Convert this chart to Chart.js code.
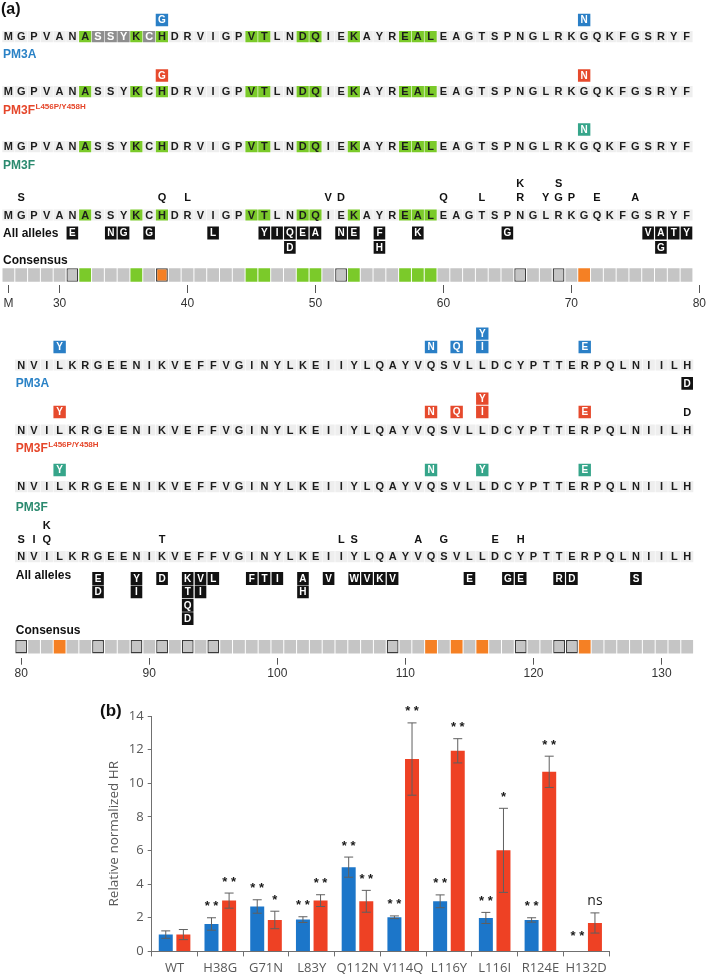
<!DOCTYPE html>
<html lang="en">
<head>
<meta charset="UTF-8">
<title>PM3 alleles and relative HR</title>
<script src="https://cdn.jsdelivr.net/npm/chart.js@4.4.1/dist/chart.umd.min.js"></script>
<style>
  body { margin: 0; width: 709px; height: 974px; overflow: hidden; position: relative; background: #fff; font-family: "Liberation Sans", Arial, sans-serif; }
  canvas { position: absolute; left: 0; }
  .panel { position: absolute; font-weight: bold; line-height: 1; color: #111; }
</style>
</head>
<body>
<canvas id="seqTop" width="709" height="318" style="top:0"></canvas>
<canvas id="seqBottom" width="709" height="372" style="top:318px"></canvas>
<canvas id="hrChart" width="709" height="290" style="top:690px"></canvas>
<div class="panel" style="left:1px;top:1px;font-size:16px">(a)</div>
<div class="panel" style="left:100px;top:702px;font-size:17px">(b)</div>

<script>
// ---- panel (a) data ----
// top line: M1 then residues 27..79, bottom line: residues 80..132
const TOP_SEQ = 'MGPVANASSYKCHDRVIGPVTLNDQIEKAYREALEAGTSPNGLRKGQKFGSRYF';
const BOTTOM_SEQ = 'NVILKRGEENIKVEFFVGINYLKEIIYLQAYVQSVLLDCYPTTERPQLNIILH';
const TOP_TICKS = ['M', 30, 40, 50, 60, 70, 80];
const BOTTOM_TICKS = [80, 90, 100, 110, 120, 130];

const HIGHLIGHT = [32, 36, 38, 45, 46, 49, 50, 53, 57, 58, 59];   // green residues
const PM3A_GREY = [33, 34, 35, 37];
const CONS_ORANGE = [38, 71, 83, 112, 114, 116, 124];
const CONS_BOXED = [31, 38, 52, 66, 69, 80, 86, 89, 91, 93, 95, 109, 119, 122, 123];

// [residue, letters]  (stacked letters listed top to bottom)
const PM3A_MUT = [[38, 'G'], [71, 'N'], [83, 'Y'], [112, 'N'], [114, 'Q'], [116, 'YI'], [124, 'E']];
const PM3FL_MUT = [[38, 'G'], [71, 'N'], [83, 'Y'], [112, 'N'], [114, 'Q'], [116, 'YI'], [124, 'E']];
const PM3F_MUT = [[71, 'N'], [83, 'Y'], [112, 'N'], [116, 'Y'], [124, 'E']];
const PM3A_BELOW = [[132, 'D']];
const PM3FL_ABOVE = [[132, 'D']];

const ALL_ABOVE = [[27, 'S'], [38, 'Q'], [40, 'L'], [51, 'V'], [52, 'D'], [60, 'Q'], [63, 'L'], [66, 'KR'],
  [68, 'Y'], [69, 'SG'], [70, 'P'], [72, 'E'], [75, 'A'],
  [80, 'S'], [81, 'I'], [82, 'KQ'], [91, 'T'], [105, 'L'], [106, 'S'], [111, 'A'], [113, 'G'], [117, 'E'], [119, 'H']];
// below the line: first letter nearest the sequence
const ALL_BELOW = [[31, 'E'], [34, 'N'], [35, 'G'], [37, 'G'], [42, 'L'], [46, 'Y'], [47, 'I'], [48, 'QD'], [49, 'E'],
  [50, 'A'], [52, 'N'], [53, 'E'], [55, 'FH'], [58, 'K'], [65, 'G'], [76, 'V'], [77, 'AG'], [78, 'T'], [79, 'Y'],
  [86, 'ED'], [89, 'YI'], [91, 'D'], [93, 'KTQD'], [94, 'VI'], [95, 'L'], [98, 'F'], [99, 'T'], [100, 'I'],
  [102, 'AH'], [104, 'V'], [106, 'W'], [107, 'V'], [108, 'K'], [109, 'V'], [115, 'E'], [118, 'G'], [119, 'E'],
  [122, 'R'], [123, 'D'], [128, 'S']];

// ---- panel (b) data ----
const MUTANTS = ['WT', 'H38G', 'G71N', 'L83Y', 'Q112N', 'V114Q', 'L116Y', 'L116I', 'R124E', 'H132D'];
const PM3A_HR = [1.0, 1.63, 2.67, 1.89, 5.01, 2.03, 2.98, 1.99, 1.87, 0.03];
const PM3A_ERR = [0.22, 0.37, 0.4, 0.17, 0.6, 0.08, 0.38, 0.33, 0.13, 0];
const PM3FL_HR = [1.0, 3.02, 1.87, 3.02, 2.98, 11.44, 11.93, 6.01, 10.68, 1.69];
const PM3FL_ERR = [0.3, 0.45, 0.52, 0.35, 0.65, 2.15, 0.72, 2.5, 0.93, 0.6];
const PM3A_SIG = ['', '**', '**', '**', '**', '**', '**', '**', '**', '**'];
const PM3FL_SIG = ['', '**', '*', '**', '**', '**', '**', '*', '**', 'ns'];

// ---- styles / layout ----
const C = {
  seqBg: '#eeeeee', green: '#7bca2a', grey: '#8e8e8e', cell: '#c5c5c5', orange: '#f58024',
  black: '#121212', cellBorder: '#3c3c3c'
};
const ALLELES = [
  {mut: PM3A_MUT, box: '#2a7fc6', text: '#2a82c6', label: 'PM3A', sup: '', grey: true},
  {mut: PM3FL_MUT, box: '#e64a2d', text: '#e5462a', label: 'PM3F', sup: 'L456P/Y458H'},
  {mut: PM3F_MUT, box: '#36a58a', text: '#2b8a6f', label: 'PM3F', sup: ''}
];
const FONT = '"Liberation Sans", Arial, sans-serif';
const SEQ_FONT = 'bold 11px ' + FONT;
const BOX_FONT = 'bold 10px ' + FONT;
const LABEL_FONT = 'bold 12px ' + FONT;
const SUP_FONT = 'bold 8px ' + FONT;

// page-y positions of every line
const TOP_LAYOUT = {
  canvasTop: 0, startCol: 1, shift: 25, ticks: TOP_TICKS,
  rows: [{seq: 36.7, mut: 20, label: 54}, {seq: 91.7, mut: 75.5, label: 110}, {seq: 146.7, mut: 129.5, label: 165}],
  all: {seq: 215, above: 197, below: 233, label: 233, abovePitch: 13.4, belowPitch: 14.3},
  cons: {label: 260, cells: 275},
  tickLength: 8, tickPad: 3, bottomPad: 4.6
};
const BOTTOM_LAYOUT = {
  canvasTop: 318, startCol: 2, shift: 78, ticks: BOTTOM_TICKS,
  rows: [{seq: 365, mut: 347, label: 383.3, below: 383.3}, {seq: 430, mut: 412, label: 448.3}, {seq: 486.7, mut: 470, label: 506.7}],
  all: {seq: 556.7, above: 539.3, below: 578.5, label: 575, abovePitch: 14.3, belowPitch: 13.4},
  cons: {label: 630, cells: 646.7},
  tickLength: 7, tickPad: 2, bottomPad: 6.9
};

function letterPlugin(items) {
  return {
    id: 'letters',
    afterDatasetsDraw(chart) {
      const {ctx, scales: {x, y}} = chart;
      ctx.save();
      ctx.textBaseline = 'middle';
      items.forEach(t => {
        const py = y.getPixelForValue(t.y) + 0.5;
        ctx.font = t.font;
        ctx.fillStyle = t.color;
        if (t.left) {
          const px = x.getPixelForValue(t.col - 0.5) + 1;
          ctx.textAlign = 'left';
          ctx.fillText(t.text, px, py);
          if (t.sup) {
            const w = ctx.measureText(t.text).width;
            ctx.font = SUP_FONT;
            ctx.fillText(t.sup, px + w + 0.5, py - 4);
          }
        } else {
          ctx.textAlign = 'center';
          ctx.fillText(t.text, x.getPixelForValue(t.col), py);
        }
      });
      ctx.restore();
    }
  };
}

function buildHalf(canvasId, seq, L) {
  const top = L.canvasTop;
  const bg = [], bgColors = [];
  const cells = [], cellColors = [], cellBorders = [], cellWidths = [];
  const mutBoxes = [], mutColors = [];
  const blackBoxes = [];
  const items = [];
  const firstCol = L.startCol, lastCol = L.startCol + seq.length - 1;
  const colOf = r => (r === 1 ? 1 : r - L.shift);
  const resOf = c => (c === 1 ? 1 : c + L.shift);
  const inHalf = r => colOf(r) >= firstCol && colOf(r) <= lastCol;

  function seqRow(sy, grey) {
    seq.split('').forEach((ch, i) => {
      const c = i + firstCol, r = resOf(c);
      const g = grey && PM3A_GREY.includes(r);
      bg.push({x: c, y: [sy - top - 5.6, sy - top + 5.6]});
      bgColors.push(g ? C.grey : HIGHLIGHT.includes(r) ? C.green : C.seqBg);
      items.push({col: c, y: sy - top, text: ch, color: g ? '#fff' : '#1c1c1c', font: SEQ_FONT});
    });
  }
  function label(text, sy, color, sup) {
    items.push({col: firstCol, y: sy - top, text, color, font: LABEL_FONT, left: true, sup});
  }

  L.rows.forEach((row, k) => {
    const a = ALLELES[k];
    seqRow(row.seq, a.grey);
    label(a.label, row.label, a.text, a.sup);
    a.mut.filter(m => inHalf(m[0])).forEach(([r, letters]) => {
      const n = letters.length;
      letters.split('').forEach((ch, j) => {
        const yy = row.mut - (n - 1 - j) * 13.4 - top;
        mutBoxes.push({x: colOf(r), y: [yy - 6.2, yy + 6.2]});
        mutColors.push(a.box);
        items.push({col: colOf(r), y: yy, text: ch, color: '#fff', font: BOX_FONT});
      });
    });
    if (k === 0) {
      PM3A_BELOW.filter(m => inHalf(m[0])).forEach(([r, ch]) => {
        const yy = row.below - top;
        blackBoxes.push({x: colOf(r), y: [yy - 6.4, yy + 6.4]});
        items.push({col: colOf(r), y: yy, text: ch, color: '#fff', font: BOX_FONT});
      });
    }
    if (k === 1) {
      PM3FL_ABOVE.filter(m => inHalf(m[0])).forEach(([r, ch]) => {
        items.push({col: colOf(r), y: row.mut - top, text: ch, color: '#111', font: SEQ_FONT});
      });
    }
  });

  // all alleles
  const A = L.all;
  seqRow(A.seq, false);
  items.push({col: firstCol, y: A.label - top, text: 'All alleles', color: '#111', font: LABEL_FONT, left: true});
  ALL_ABOVE.filter(m => inHalf(m[0])).forEach(([r, letters]) => {
    const n = letters.length;
    letters.split('').forEach((ch, j) => {
      items.push({col: colOf(r), y: A.above - (n - 1 - j) * A.abovePitch - top, text: ch, color: '#111', font: SEQ_FONT});
    });
  });
  ALL_BELOW.filter(m => inHalf(m[0])).forEach(([r, letters]) => {
    letters.split('').forEach((ch, j) => {
      const yy = A.below + j * A.belowPitch - top;
      blackBoxes.push({x: colOf(r), y: [yy - 6.4, yy + 6.4]});
      items.push({col: colOf(r), y: yy, text: ch, color: '#fff', font: BOX_FONT});
    });
  });

  // consensus strip
  items.push({col: firstCol, y: L.cons.label - top, text: 'Consensus', color: '#111', font: LABEL_FONT, left: true});
  for (let c = firstCol; c <= lastCol; c++) {
    const r = resOf(c);
    const cy = L.cons.cells - top;
    cells.push({x: c, y: [cy - 6.7, cy + 6.7]});
    cellColors.push(CONS_ORANGE.includes(r) ? C.orange : HIGHLIGHT.includes(r) ? C.green : C.cell);
    const boxed = CONS_BOXED.includes(r);
    cellBorders.push(boxed ? C.cellBorder : 'rgba(0,0,0,0)');
    cellWidths.push(boxed ? 1.3 : 0);
  }

  const tickCols = L.ticks.map(t => (t === 'M' ? 1 : t - L.shift));
  const chart = new Chart(document.getElementById(canvasId), {
    type: 'bar',
    data: {
      datasets: [
        {data: bg, backgroundColor: bgColors, barThickness: 12.2},
        {data: cells, backgroundColor: cellColors, borderColor: cellBorders, borderWidth: cellWidths, barThickness: 11.8},
        {data: mutBoxes, backgroundColor: mutColors, barThickness: 12.4},
        {data: blackBoxes, backgroundColor: C.black, barThickness: 11.6}
      ]
    },
    options: {
      responsive: false,
      animation: false,
      events: [],
      datasets: {bar: {grouped: false, borderSkipped: false, inflateAmount: 0}},
      layout: {padding: {left: 2, right: 2.6, top: 0, bottom: L.bottomPad}},
      plugins: {legend: {display: false}, tooltip: {enabled: false}},
      scales: {
        x: {
          type: 'linear', min: 0.5, max: 55.5, offset: false,
          afterBuildTicks: s => { s.ticks = tickCols.map(v => ({value: v})); },
          ticks: {
            autoSkip: false, maxRotation: 0, padding: L.tickPad, color: '#333',
            font: {family: FONT, size: 12},
            callback: v => (v === 1 ? 'M' : String(v + L.shift))
          },
          grid: {drawOnChartArea: false, drawTicks: true, tickLength: L.tickLength, color: '#555', offset: false},
          border: {display: false}
        },
        y: {display: false, reverse: true, min: 0, max: 300}
      }
    },
    plugins: [letterPlugin(items)]
  });
  // make one y unit equal one pixel of the canvas
  chart.options.scales.y.max = chart.chartArea.bottom - chart.chartArea.top;
  chart.update();
  return chart;
}

buildHalf('seqTop', TOP_SEQ, TOP_LAYOUT);
buildHalf('seqBottom', BOTTOM_SEQ, BOTTOM_LAYOUT);

// ---- panel (b) ----
const errorBars = {
  id: 'errorBars',
  afterDatasetsDraw(chart) {
    const {ctx, scales: {y}} = chart;
    ctx.save();
    chart.data.datasets.forEach((ds, i) => {
      chart.getDatasetMeta(i).data.forEach((bar, j) => {
        const v = ds.data[j], e = ds.err[j];
        const yTop = y.getPixelForValue(v + e);
        if (e > 0) {
          const yBot = y.getPixelForValue(v - e);
          ctx.strokeStyle = '#5f5f5f';
          ctx.lineWidth = 1;
          ctx.beginPath();
          ctx.moveTo(bar.x, yTop); ctx.lineTo(bar.x, yBot);
          ctx.moveTo(bar.x - 4.5, yTop); ctx.lineTo(bar.x + 4.5, yTop);
          ctx.moveTo(bar.x - 4.5, yBot); ctx.lineTo(bar.x + 4.5, yBot);
          ctx.stroke();
        }
        const s = ds.sig[j];
        if (!s) return;
        ctx.fillStyle = '#1a1a1a';
        ctx.textAlign = 'center';
        ctx.textBaseline = 'alphabetic';
        if (s === 'ns') {
          ctx.font = '14px "Open Sans", sans-serif';
          ctx.fillText(s, bar.x, yTop - 8);
        } else {
          ctx.font = 'bold 13px ' + FONT;
          ctx.fillText(s.split('').join(' '), bar.x, yTop - 7.5 - (e > 0 ? 0 : 3));
        }
      });
    });
    ctx.restore();
  }
};

new Chart(document.getElementById('hrChart'), {
  type: 'bar',
  data: {
    labels: MUTANTS,
    datasets: [
      {label: 'PM3A', data: PM3A_HR, err: PM3A_ERR, sig: PM3A_SIG, backgroundColor: '#1c76c9'},
      {label: 'PM3F L456P/Y458H', data: PM3FL_HR, err: PM3FL_ERR, sig: PM3FL_SIG, backgroundColor: '#ee4124'}
    ]
  },
  options: {
    responsive: false,
    animation: false,
    events: [],
    categoryPercentage: 0.77,
    barPercentage: 0.795,
    layout: {padding: {left: 100, right: 100, top: 26, bottom: 0}},
    plugins: {legend: {display: false}, tooltip: {enabled: false}},
    scales: {
      x: {
        grid: {drawOnChartArea: false, tickLength: 5, color: '#707070'},
        border: {color: '#707070'},
        ticks: {
          color: '#595959', padding: 4, autoSkip: false, maxRotation: 0, minRotation: 0,
          font: {family: '"Open Sans", sans-serif', size: 13}
        }
      },
      y: {
        min: 0, max: 14,
        afterFit: s => { s.width = 51.7; },
        ticks: {stepSize: 2, color: '#595959', padding: 4, font: {family: '"Open Sans", sans-serif', size: 13}},
        grid: {drawOnChartArea: false, tickLength: 4, color: '#707070'},
        border: {color: '#707070'},
        title: {
          display: true, text: 'Relative normalized HR', color: '#595959',
          font: {family: '"Open Sans", sans-serif', size: 13.5}, padding: {top: 6, bottom: 0}
        }
      }
    }
  },
  plugins: [errorBars]
});
</script>
</body>
</html>
